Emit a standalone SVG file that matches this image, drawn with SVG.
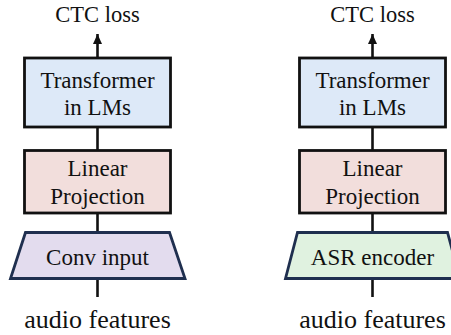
<svg xmlns="http://www.w3.org/2000/svg" width="451" height="335" viewBox="0 0 451 335">
<defs>
<style>
text{font-family:"Times New Roman","Liberation Serif",Tinos,"DejaVu Serif","Noto Serif",serif;fill:#111;text-anchor:middle}
.t{font-size:23px}
.h{font-size:22.5px}
.a{font-size:26px}
.box{stroke:#111;stroke-width:2.8}
.trap{stroke:#1f2f4f;stroke-width:2.8}
.c{stroke:#111;stroke-width:2.6;fill:none}
.tf{fill:#dde9f8}
.lp{fill:#f2dedc}
.cv{fill:#e3dcee}
.asr{fill:#e0f2e0}
</style>
<marker id="ah" markerUnits="userSpaceOnUse" markerWidth="10" markerHeight="10" viewBox="0 0 10 10" refX="10" refY="5" orient="auto">
<path d="M0,0.5 L10,5 L0,9.5 Z" fill="#111"/>
</marker>
</defs>
<rect width="451" height="335" fill="#fff"/>
<g id="connectors">
<line class="c" x1="97.5" y1="57" x2="97.5" y2="34" marker-end="url(#ah)"/>
<line class="c" x1="97.5" y1="127" x2="97.5" y2="150"/>
<line class="c" x1="97.5" y1="213" x2="97.5" y2="232"/>
<line class="c" x1="97.5" y1="279" x2="97.5" y2="297"/>
<line class="c" x1="372.5" y1="57" x2="372.5" y2="34" marker-end="url(#ah)"/>
<line class="c" x1="372.5" y1="127" x2="372.5" y2="150"/>
<line class="c" x1="372.5" y1="213" x2="372.5" y2="232"/>
<line class="c" x1="372.5" y1="279" x2="372.5" y2="297"/>
</g>
<g id="ctc-left"><text class="h" x="97.5" y="21.5">CTC loss</text></g>
<g id="transformer-left">
<rect class="box tf" x="24.5" y="58" width="146" height="69"/>
<text class="t" x="97.5" y="87.5">Transformer</text>
<text class="t" x="97.5" y="115">in LMs</text>
</g>
<g id="linear-left">
<rect class="box lp" x="24.5" y="150.5" width="146" height="62.5"/>
<text class="t" x="97.5" y="176">Linear</text>
<text class="t" x="97.5" y="204">Projection</text>
</g>
<g id="conv-input">
<polygon class="trap cv" points="25.5,232.5 169.5,232.5 185,278.5 10.5,278.5"/>
<text class="t" x="97.5" y="265">Conv input</text>
</g>
<g id="audio-left"><text class="a" x="97.5" y="328">audio features</text></g>
<g id="ctc-right"><text class="h" x="372.5" y="21.5">CTC loss</text></g>
<g id="transformer-right">
<rect class="box tf" x="299.5" y="58" width="146" height="69"/>
<text class="t" x="372.5" y="87.5">Transformer</text>
<text class="t" x="372.5" y="115">in LMs</text>
</g>
<g id="linear-right">
<rect class="box lp" x="299.5" y="150.5" width="146" height="62.5"/>
<text class="t" x="372.5" y="176">Linear</text>
<text class="t" x="372.5" y="204">Projection</text>
</g>
<g id="asr-encoder">
<polygon class="trap asr" points="297.5,232.5 447.5,232.5 460,278.5 285.5,278.5"/>
<text class="t" x="372.5" y="265">ASR encoder</text>
</g>
<g id="audio-right"><text class="a" x="372.5" y="328">audio features</text></g>
</svg>
